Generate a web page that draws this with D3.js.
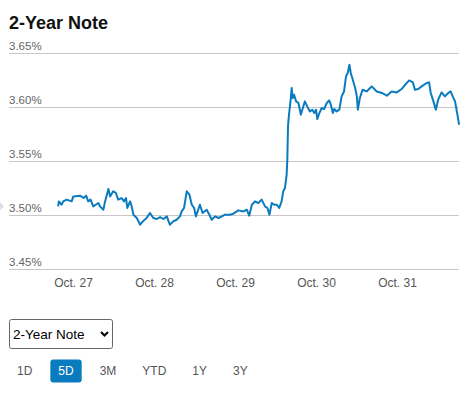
<!DOCTYPE html>
<html>
<head>
<meta charset="utf-8">
<script src="https://cdn.jsdelivr.net/npm/d3@7"></script>
<style>
  body { margin: 0; background: #fff; }
  text { font-family: "Liberation Sans", Arial, sans-serif; }
</style>
</head>
<body>
<div class="container"></div>
<script>
// hours after Oct. 27 00:00
var hours = [-4.4, -4.2, -3.4, -2.9, -1.9, -0.4, 0.1, 2.1, 3.1, 3.9, 4.5, 5.2, 6.0, 7.5, 8.0, 9.0, 9.5, 10.5, 11.0, 11.9,
  12.7, 13.4, 14.4, 15.1, 15.7, 16.1, 16.9, 17.4, 17.9, 18.9, 19.9, 20.7, 21.8, 22.8, 23.8, 24.8, 25.8, 26.8, 27.8, 28.7,
  29.7, 30.7, 31.7, 32.2, 32.9, 33.7, 34.5, 35.2, 35.9, 36.4, 37.1, 37.6, 38.4, 39.6, 40.4, 41.1, 42.1, 43.1, 44.1, 45.0,
  46.5, 47.5, 49.0, 50.5, 51.5, 52.2, 53.0, 53.9, 54.9, 55.9, 56.9, 57.6, 58.2, 58.9, 59.6, 60.4, 61.1, 61.8, 62.3, 62.8,
  63.3, 63.5, 63.7, 64.0, 64.5, 64.8, 65.1, 65.5, 66.1, 66.8, 67.5, 68.1, 68.7, 69.4, 70.2, 70.9, 71.5, 72.0, 72.4, 73.0,
  73.7, 74.4, 75.2, 75.9, 76.4, 77.0, 77.4, 78.1, 78.9, 79.6, 80.3, 80.9, 81.4, 81.9, 82.3, 82.9, 83.6, 84.1, 84.4, 85.0,
  85.8, 87.0, 88.5, 90.0, 91.5, 93.0, 94.4, 95.9, 97.4, 98.4, 99.6, 100.7, 101.3, 102.3, 103.3, 104.8, 105.5, 106.0, 106.8, 107.5,
  108.2, 109.2, 110.2, 111.2, 111.9, 112.5, 113.2, 113.9, 114.4];
var yields = [3.508, 3.5126, 3.5095, 3.5126, 3.5142, 3.5126, 3.5172, 3.5179, 3.5157, 3.5179, 3.5126, 3.5142, 3.508, 3.5111, 3.508, 3.5049, 3.5126, 3.5241, 3.5172, 3.5219,
  3.5204, 3.5142, 3.5157, 3.5126, 3.5157, 3.5065, 3.5126, 3.508, 3.5003, 3.4972, 3.491, 3.4941, 3.4972, 3.5019, 3.4972, 3.4963, 3.4981, 3.4963, 3.4987, 3.491,
  3.4941, 3.4956, 3.4987, 3.5033, 3.5065, 3.5219, 3.5188, 3.5095, 3.5065, 3.4987, 3.5049, 3.5095, 3.5019, 3.5049, 3.5003, 3.4956, 3.4987, 3.4972, 3.4987, 3.5003,
  3.5003, 3.5012, 3.5043, 3.5033, 3.5049, 3.4994, 3.5095, 3.5126, 3.5111, 3.5142, 3.508, 3.5065, 3.5003, 3.5111, 3.5095, 3.5095, 3.5065, 3.5126, 3.5219, 3.525,
  3.5373, 3.5512, 3.582, 3.5929, 3.6068, 3.6176, 3.6083, 3.6114, 3.6052, 3.6037, 3.5929, 3.5991, 3.6052, 3.6006, 3.5959, 3.5975, 3.5944, 3.5975, 3.5889, 3.5944,
  3.5991, 3.5981, 3.6037, 3.6061, 3.6021, 3.5944, 3.5981, 3.5959, 3.5975, 3.6098, 3.6144, 3.6283, 3.6315, 3.6392, 3.6315, 3.6253, 3.6176, 3.6098, 3.5975, 3.6083,
  3.616, 3.6144, 3.6191, 3.6144, 3.613, 3.6105, 3.6144, 3.6135, 3.6167, 3.6206, 3.6246, 3.6228, 3.616, 3.6167, 3.6191, 3.6222, 3.6228, 3.613, 3.6052, 3.5975,
  3.6068, 3.6135, 3.6098, 3.613, 3.6144, 3.6098, 3.6052, 3.5929, 3.5836];
var yTicks = [3.45, 3.50, 3.55, 3.60, 3.65];
var dayLabels = ['Oct. 27', 'Oct. 28', 'Oct. 29', 'Oct. 30', 'Oct. 31'];
var prevClose = 3.508;
var ranges = ['1D', '5D', '3M', 'YTD', '1Y', '3Y'];
var activeRange = '5D';
var title = '2-Year Note';

const WIDTH = 469;
const HEIGHT = 393;
const LEFT = 9;
const RIGHT = 459;
const BLUE = '#0a7bbf';

var start = new Date(2023, 9, 27);
var quotes = hours.map(function(h, i){
	return { date: d3.timeMinute.offset(start, Math.round(h * 60)), value: yields[i] };
});
var days = dayLabels.map(function(d, i){ return d3.timeDay.offset(start, i); });

var svg = d3.select('.container').append('svg')
	.attr('width', WIDTH)
	.attr('height', HEIGHT);

svg.append('text')
	.attr('x', LEFT).attr('y', 29)
	.attr('font-size', 18).attr('font-weight', 'bold').attr('fill', '#111')
	.text(title);

var xScale = d3.scaleTime()
	.domain([days[0], d3.timeDay.offset(start, 5)])
	.range([73, 73 + 81 * 5]);

var yScale = d3.scaleLinear()
	.domain([3.45, 3.65])
	.range([269, 53]);

// grid lines + labels
var grid = svg.append('g');
grid.selectAll('line').data(yTicks).enter().append('line')
	.attr('x1', LEFT).attr('x2', RIGHT)
	.attr('y1', function(d){ return Math.round(yScale(d)) + 0.5; })
	.attr('y2', function(d){ return Math.round(yScale(d)) + 0.5; })
	.attr('stroke', '#c8c8c8').attr('stroke-width', 1);
grid.selectAll('text').data(yTicks).enter().append('text')
	.attr('x', LEFT).attr('y', function(d){ return yScale(d) - 3; })
	.attr('font-size', 11.5).attr('fill', '#666')
	.text(function(d){ return d3.format('.2f')(d) + '%'; });

// x axis labels
var xAxis = d3.axisBottom(xScale)
	.tickValues(days)
	.tickSize(0)
	.tickFormat(function(d, i){ return dayLabels[i]; });
var gx = svg.append('g')
	.attr('transform', 'translate(0, 275)')
	.call(xAxis);
gx.select('.domain').remove();
gx.selectAll('text')
	.attr('font-size', 12).attr('fill', '#555')
	.attr('font-family', '"Liberation Sans", Arial, sans-serif');

// previous close marker
var pc = yScale(prevClose);
svg.append('path')
	.attr('d', 'M0,' + (pc - 4) + 'L4,' + pc + 'L0,' + (pc + 4) + 'Z')
	.attr('fill', '#ddd');

var line = d3.line()
	.x(function(q){ return xScale(q.date); })
	.y(function(q){ return yScale(q.value); });

svg.append('path')
	.datum(quotes)
	.attr('d', line)
	.attr('fill', 'none')
	.attr('stroke', BLUE)
	.attr('stroke-width', 2)
	.attr('stroke-linejoin', 'round');

// dropdown
var sel = svg.append('g');
sel.append('rect')
	.attr('x', 9.5).attr('y', 319.5).attr('width', 103).attr('height', 29)
	.attr('rx', 2).attr('fill', '#fff').attr('stroke', '#666');
sel.append('text')
	.attr('x', 13).attr('y', 339)
	.attr('font-size', 13.5).attr('fill', '#000')
	.text(title);
sel.append('path')
	.attr('d', 'M101,332L104.5,335.5L108,332')
	.attr('fill', 'none').attr('stroke', '#000').attr('stroke-width', 2);

// range buttons
var bx = LEFT;
var btn = svg.append('g');
ranges.forEach(function(r){
	var t = btn.append('text')
		.attr('y', 375)
		.attr('font-size', 12)
		.attr('text-anchor', 'middle')
		.text(r);
	var w = t.node().getComputedTextLength() + 16;
	t.attr('x', bx + w / 2);
	if (r === activeRange) {
		btn.insert('rect', 'text')
			.attr('x', bx).attr('y', 359.5).attr('width', w).attr('height', 23)
			.attr('rx', 3).attr('fill', BLUE);
		t.attr('fill', '#fff');
	} else {
		t.attr('fill', '#555');
	}
	bx += w + 10;
});
</script>
</body>
</html>
